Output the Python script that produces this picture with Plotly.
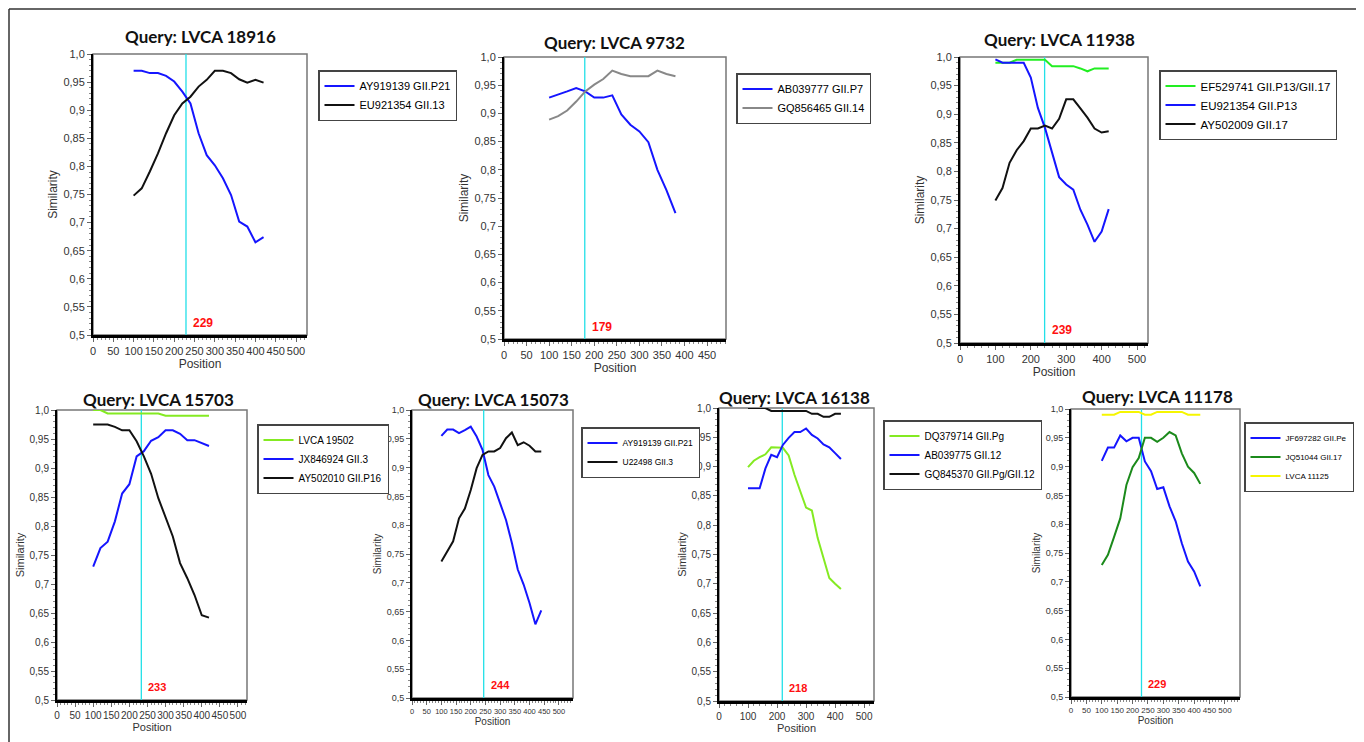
import plotly.graph_objects as go

# The page body adds an 8px margin, so the figure is drawn 8px smaller and
# every pixel position below (measured on the 1364x742 screen) is shifted by OFF.
OFF = 8
W, H = 1364 - OFF, 742 - OFF

# ---------------- data ----------------
POS_100_420 = [100, 120, 140, 160, 180, 200, 220, 240, 260, 280, 300, 320, 340, 360, 380, 400, 420]
POS_100_380 = [100, 120, 140, 160, 180, 200, 220, 240, 260, 280, 300, 320, 340, 360, 380]
POS_100_440 = [100, 120, 140, 160, 180, 200, 220, 240, 260, 280, 300, 320, 340, 360, 380, 400, 420, 440]

Y_TICKVALS = [0.5, 0.55, 0.6, 0.65, 0.7, 0.75, 0.8, 0.85, 0.9, 0.95, 1.0]
Y_TICKTEXT = ["0,5", "0,55", "0,6", "0,65", "0,7", "0,75", "0,8", "0,85", "0,9", "0,95", "1,0"]

TITLES = ["Query: LVCA 18916", "Query: LVCA 9732", "Query: LVCA 11938",
          "Query: LVCA 15703", "Query: LVCA 15073", "Query: LVCA 16138", "Query: LVCA 11178"]
BREAKPOINTS = [229, 179, 239, 233, 244, 218, 229]

# Panel 1: LVCA 18916
P1_AY919139 = [0.970, 0.970, 0.966, 0.966, 0.961, 0.951, 0.933, 0.912, 0.859, 0.820, 0.802, 0.779, 0.749, 0.702, 0.693, 0.665, 0.674]
P1_EU921354 = [0.748, 0.761, 0.791, 0.823, 0.859, 0.891, 0.912, 0.924, 0.942, 0.954, 0.970, 0.970, 0.966, 0.955, 0.949, 0.954, 0.949]

# Panel 2: LVCA 9732
P2_AB039777 = [0.928, 0.933, 0.939, 0.945, 0.939, 0.928, 0.928, 0.932, 0.898, 0.880, 0.868, 0.849, 0.800, 0.764, 0.723]
P2_GQ856465 = [0.889, 0.895, 0.905, 0.921, 0.939, 0.951, 0.961, 0.976, 0.970, 0.966, 0.966, 0.966, 0.976, 0.970, 0.966]

# Panel 3: LVCA 11938
P3_EF529741 = [0.990, 0.990, 0.990, 0.995, 0.995, 0.995, 0.995, 0.995, 0.984, 0.984, 0.984, 0.984, 0.980, 0.975, 0.980, 0.980, 0.980]
P3_EU921354 = [0.996, 0.990, 0.990, 0.990, 0.990, 0.964, 0.911, 0.876, 0.835, 0.790, 0.777, 0.768, 0.733, 0.707, 0.677, 0.695, 0.734]
P3_AY502009 = [0.749, 0.771, 0.815, 0.837, 0.853, 0.875, 0.875, 0.880, 0.875, 0.892, 0.926, 0.926, 0.910, 0.894, 0.875, 0.868, 0.870]

# Panel 4: LVCA 15703
P4_LVCA19502 = [1.000, 1.000, 0.994, 0.994, 0.994, 0.994, 0.994, 0.994, 0.994, 0.994, 0.990, 0.990, 0.990, 0.990, 0.990, 0.990, 0.990]
P4_JX846924 = [0.730, 0.762, 0.773, 0.808, 0.856, 0.872, 0.920, 0.929, 0.947, 0.953, 0.965, 0.965, 0.959, 0.948, 0.948, 0.943, 0.938]
P4_AY502010 = [0.975, 0.975, 0.975, 0.971, 0.965, 0.965, 0.946, 0.920, 0.890, 0.848, 0.816, 0.782, 0.736, 0.710, 0.681, 0.646, 0.642]

# Panel 5: LVCA 15073
P5_AY919139 = [0.955, 0.966, 0.966, 0.960, 0.965, 0.971, 0.954, 0.931, 0.887, 0.867, 0.838, 0.809, 0.769, 0.723, 0.697, 0.665, 0.628, 0.652]
P5_U22498 = [0.737, 0.754, 0.772, 0.812, 0.829, 0.861, 0.899, 0.922, 0.928, 0.928, 0.934, 0.951, 0.961, 0.939, 0.944, 0.938, 0.928, 0.928]

# Panel 6: LVCA 16138
P6_DQ379714 = [0.899, 0.910, 0.916, 0.921, 0.933, 0.932, 0.932, 0.919, 0.886, 0.858, 0.830, 0.825, 0.778, 0.744, 0.710, 0.700, 0.691]
P6_AB039775 = [0.863, 0.863, 0.863, 0.897, 0.920, 0.916, 0.937, 0.949, 0.959, 0.959, 0.965, 0.954, 0.948, 0.938, 0.933, 0.923, 0.913]
P6_GQ845370 = [1.000, 1.000, 1.000, 1.000, 0.995, 0.995, 0.995, 0.995, 0.995, 0.995, 0.995, 0.990, 0.990, 0.985, 0.985, 0.990, 0.990]

# Panel 7: LVCA 11178
P7_JF697282 = [0.910, 0.933, 0.933, 0.954, 0.944, 0.950, 0.950, 0.909, 0.892, 0.861, 0.864, 0.831, 0.805, 0.767, 0.735, 0.718, 0.692]
P7_JQ51044 = [0.729, 0.747, 0.778, 0.810, 0.868, 0.899, 0.915, 0.950, 0.950, 0.943, 0.950, 0.960, 0.954, 0.923, 0.900, 0.889, 0.870]
P7_LVCA11125 = [0.990, 0.990, 0.990, 0.995, 0.995, 0.995, 0.995, 0.990, 0.990, 0.995, 0.995, 0.995, 0.995, 0.995, 0.990, 0.990, 0.990]

BLUE = "#1515ff"
BLACK = "#111111"
GRAY = "#888888"
GREEN = "#22ee22"
LIME = "#84ea22"
DKGREEN = "#1b8a1b"
YELLOW = "#f6f600"

SERIES = [
    [("AY919139 GII.P21", POS_100_420, P1_AY919139, BLUE),
     ("EU921354 GII.13", POS_100_420, P1_EU921354, BLACK)],
    [("AB039777 GII.P7", POS_100_380, P2_AB039777, BLUE),
     ("GQ856465 GII.14", POS_100_380, P2_GQ856465, GRAY)],
    [("EF529741 GII.P13/GII.17", POS_100_420, P3_EF529741, GREEN),
     ("EU921354 GII.P13", POS_100_420, P3_EU921354, BLUE),
     ("AY502009 GII.17", POS_100_420, P3_AY502009, BLACK)],
    [("LVCA 19502", POS_100_420, P4_LVCA19502, LIME),
     ("JX846924 GII.3", POS_100_420, P4_JX846924, BLUE),
     ("AY502010 GII.P16", POS_100_420, P4_AY502010, BLACK)],
    [("AY919139 GII.P21", POS_100_440, P5_AY919139, BLUE),
     ("U22498 GII.3", POS_100_440, P5_U22498, BLACK)],
    [("DQ379714 GII.Pg", POS_100_420, P6_DQ379714, LIME),
     ("AB039775 GII.12", POS_100_420, P6_AB039775, BLUE),
     ("GQ845370 GII.Pg/GII.12", POS_100_420, P6_GQ845370, BLACK)],
    [("JF697282 GII.Pe", POS_100_420, P7_JF697282, BLUE),
     ("JQ51044 GII.17", POS_100_420, P7_JQ51044, DKGREEN),
     ("LVCA 11125", POS_100_420, P7_LVCA11125, YELLOW)],
]

FONT = "Liberation Sans, Arial, sans-serif"
TITLE_FONT = "Lato, Open Sans, sans-serif"

# ---------------- layout geometry (screen pixels) ----------------
PANELS = [
    dict(box=(93, 54, 307, 335), xmax=527, dtick=50, title=(200, 37), leg=(318, 70), tx=11, ty=11, leg_font=11),
    dict(box=(504, 57, 726, 339), xmax=492, dtick=50, title=(614, 42), leg=(736, 73), tx=11, ty=11, leg_font=11),
    dict(box=(960, 57, 1148, 343), xmax=531, dtick=100, title=(1059, 39), leg=(1159, 70), tx=11, ty=11, leg_font=11.5),
    dict(box=(57, 410, 247, 700), xmax=525, dtick=50, title=(158, 399), leg=(257, 424), tx=10, ty=10, leg_font=10),
    dict(box=(412, 410, 573, 698), xmax=548, dtick=50, title=(493, 399), leg=(581, 427), tx=7.5, ty=9, leg_font=8.5),
    dict(box=(719, 408, 874, 701), xmax=534, dtick=100, title=(794, 397), leg=(883, 420), tx=10, ty=10, leg_font=10),
    dict(box=(1071, 409, 1240, 697), xmax=549, dtick=50, title=(1157, 396), leg=(1244, 422), tx=8, ty=9, leg_font=8),
]


def px(v):
    return (v - OFF) / W


def py(v):
    return 1 - (v - OFF) / H


fig = go.Figure()
layout = dict(width=W, height=H, margin=dict(l=0, r=0, t=0, b=0), autosize=False,
              paper_bgcolor="white", plot_bgcolor="white", showlegend=True)
shapes = []
annotations = []

for i, (panel, series) in enumerate(zip(PANELS, SERIES)):
    n = i + 1
    sfx = "" if n == 1 else str(n)
    xa, ya = "x" + sfx, "y" + sfx
    legname = "legend" + sfx
    l, t, r, b = panel["box"]
    for name, xs, ys, col in series:
        fig.add_trace(go.Scatter(x=xs, y=ys, mode="lines", name=name,
                                 line=dict(color=col, width=2), xaxis=xa, yaxis=ya,
                                 legend=legname, hoverinfo="x+y+name"))
    title_size = max(panel["ty"], 9) + 1
    layout["xaxis" + sfx] = dict(
        domain=[px(l), px(r)], anchor=ya, range=[0, panel["xmax"]],
        tickmode="linear", tick0=0, dtick=panel["dtick"], tickangle=0,
        ticks="outside", ticklen=4, tickcolor="#666", tickwidth=1,
        minor=dict(ticks="outside", ticklen=2, tickcolor="#888", dtick=panel["dtick"] / 5),
        showgrid=False, zeroline=False, showline=True, linecolor="black", linewidth=2.5,
        tickfont=dict(family=FONT, size=panel["tx"], color="#333"),
        title=dict(text="Position", font=dict(family=FONT, size=title_size, color="#333"), standoff=2),
        automargin=False, fixedrange=True)
    layout["yaxis" + sfx] = dict(
        domain=[py(b), py(t)], anchor=xa, range=[0.5, 1.0],
        tickmode="array", tickvals=Y_TICKVALS, ticktext=Y_TICKTEXT,
        ticks="outside", ticklen=4, tickcolor="#666", tickwidth=1,
        minor=dict(ticks="outside", ticklen=2, tickcolor="#888", dtick=0.01, tick0=0.5),
        showgrid=False, zeroline=False, showline=True, linecolor="black", linewidth=2,
        tickfont=dict(family=FONT, size=panel["ty"], color="#333"),
        title=dict(text="Similarity", font=dict(family=FONT, size=title_size, color="#333"), standoff=3),
        automargin=False, fixedrange=True)
    lx, ly = panel["leg"]
    layout[legname] = dict(x=px(lx), y=py(ly), xanchor="left", yanchor="top",
                           bgcolor="white", bordercolor="#444", borderwidth=1.5,
                           font=dict(family=FONT, size=panel["leg_font"], color="black"),
                           tracegroupgap=0, itemwidth=30)
    # gray frame of the plot area
    shapes.append(dict(type="rect", xref=xa + " domain", yref=ya + " domain",
                       x0=0, x1=1, y0=0, y1=1, line=dict(color="#777", width=1.5), layer="below"))
    # breakpoint line
    bp = BREAKPOINTS[i]
    shapes.append(dict(type="line", xref=xa, yref=ya + " domain", x0=bp, x1=bp, y0=0, y1=1,
                       line=dict(color="#22e0e8", width=1.3), layer="below"))
    annotations.append(dict(text="<b>%d</b>" % bp, x=bp, y=0.522, xref=xa, yref=ya,
                            xanchor="left", yanchor="middle", xshift=5, showarrow=False,
                            font=dict(family=FONT, size=12 if n <= 3 else 11, color="#ff1010")))
    tx, ty = panel["title"]
    annotations.append(dict(text="<b>%s</b>" % TITLES[i], x=px(tx), y=py(ty), xref="paper", yref="paper",
                            xanchor="center", yanchor="middle", showarrow=False,
                            font=dict(family=TITLE_FONT, size=17, color="#111")))

# outer figure frame (top and left edges, at the very edge of the figure)
EDGE_X = 1 / W
EDGE_Y = 1 - 1 / H
shapes.append(dict(type="line", xref="paper", yref="paper", x0=EDGE_X, x1=1, y0=EDGE_Y, y1=EDGE_Y,
                   line=dict(color="#333", width=1.5)))
shapes.append(dict(type="line", xref="paper", yref="paper", x0=EDGE_X, x1=EDGE_X, y0=0, y1=EDGE_Y,
                   line=dict(color="#333", width=1.5)))

layout["shapes"] = shapes
layout["annotations"] = annotations
fig.update_layout(**layout)

fig.write_html("out.html")
